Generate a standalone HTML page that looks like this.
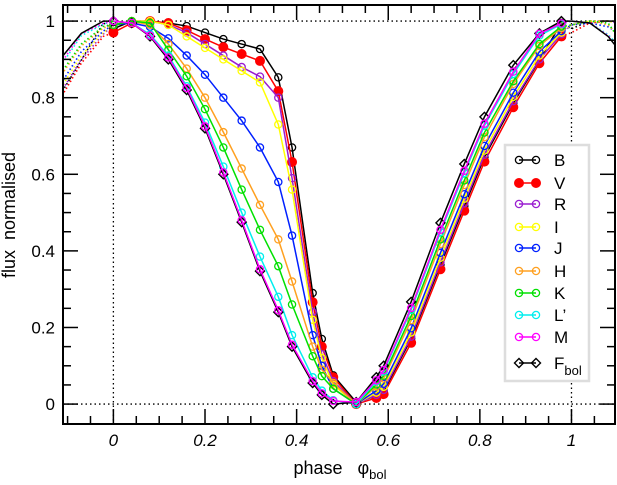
<!DOCTYPE html>
<html><head><meta charset="utf-8"><style>
body{margin:0;background:#fff;}
svg{display:block;font-family:"Liberation Sans",sans-serif;}
</style></head><body>
<svg id="chart" width="617" height="485" viewBox="0 0 617 485" xmlns="http://www.w3.org/2000/svg">
<defs><clipPath id="plotclip"><rect x="63" y="5" width="552" height="419"/></clipPath></defs>
<g id="grid"></g>
<g id="series" clip-path="url(#plotclip)"></g>
<g id="axes"></g>
<g id="legend"></g>
<text transform="translate(15,215) rotate(-90)" text-anchor="middle" font-size="18">flux&#160;&#160;normalised</text>
<text x="340" y="474" text-anchor="middle" font-size="18">phase&#160;&#160;&#160;φ<tspan font-size="13" dy="5">bol</tspan></text>
</svg>
<script>
const phases=[0,0.04,0.08,0.12,0.16,0.2,0.24,0.28,0.32,0.36,0.39,0.435,0.455,0.48,0.53,0.574,0.59,0.65,0.714,0.766,0.81,0.873,0.93,0.978];
const seriesNames=["B","V","R","I","J","H","K","L’","M","Fbol"];
const valsB=[0.98,1,1,0.995,0.987,0.97,0.953,0.94,0.927,0.853,0.67,0.29,0.17,0.075,0.005,0.021,0.033,0.171,0.364,0.517,0.645,0.786,0.898,0.995];
const valsV=[0.97,0.995,1,0.995,0.976,0.953,0.932,0.914,0.896,0.817,0.632,0.266,0.15,0.07,0,0.016,0.026,0.16,0.352,0.505,0.633,0.775,0.89,0.96];
const valsR=[0.99,1,1,0.99,0.97,0.94,0.91,0.88,0.855,0.8,0.59,0.24,0.13,0.06,0,0.024,0.037,0.176,0.37,0.524,0.651,0.791,0.9,0.966];
const valsI=[0.99,1,1,0.99,0.96,0.93,0.9,0.87,0.84,0.73,0.56,0.22,0.12,0.05,0,0.03,0.045,0.187,0.382,0.536,0.662,0.802,0.91,0.97];
const valsJ=[0.99,0.995,0.985,0.955,0.91,0.86,0.8,0.74,0.67,0.58,0.44,0.18,0.1,0.04,0,0.035,0.053,0.198,0.395,0.548,0.674,0.813,0.92,0.974];
const valsH=[0.99,1,0.99,0.94,0.876,0.8,0.71,0.615,0.52,0.43,0.32,0.15,0.09,0.055,0,0.046,0.067,0.219,0.418,0.572,0.697,0.836,0.935,0.982];
const valsK=[0.99,1,0.995,0.925,0.856,0.77,0.67,0.56,0.455,0.36,0.26,0.125,0.073,0.04,0,0.051,0.074,0.23,0.43,0.584,0.709,0.843,0.94,0.986];
const valsL=[1,0.995,0.965,0.91,0.83,0.735,0.62,0.5,0.385,0.28,0.18,0.07,0.035,0.01,0,0.059,0.085,0.246,0.449,0.603,0.727,0.862,0.962,0.992];
const valsM=[1,0.995,0.962,0.905,0.825,0.725,0.605,0.48,0.352,0.245,0.155,0.06,0.028,0.008,0.005,0.062,0.089,0.251,0.455,0.609,0.732,0.868,0.967,0.994];
const valsF=[1,0.995,0.96,0.9,0.82,0.72,0.6,0.475,0.347,0.24,0.15,0.055,0.024,0,0.005,0.07,0.1,0.267,0.473,0.627,0.75,0.885,0.968,1.0];
const xTicks=["0","0.2","0.4","0.6","0.8","1"];
const yTicks=["0","0.2","0.4","0.6","0.8","1"];

const NS="http://www.w3.org/2000/svg";
const X0=63,X1=615,Y0=424,Y1=5;
const xmin=-0.11,xmax=1.095,ymin=-0.052,ymax=1.042;
function sx(v){return X0+(v-xmin)/(xmax-xmin)*(X1-X0);}
function sy(v){return Y0-(v-ymin)/(ymax-ymin)*(Y0-Y1);}
function mk(tag,attrs,parent){const e=document.createElementNS(NS,tag);for(const k in attrs)e.setAttribute(k,attrs[k]);parent.appendChild(e);return e;}

const grid=document.getElementById('grid');
const dl={stroke:"#000","stroke-width":1.3,"stroke-dasharray":"1.5,3",fill:"none"};
let g;
g=mk('line',Object.assign({x1:X0,x2:X1,y1:sy(1),y2:sy(1)},dl),grid);

g=mk('line',Object.assign({x1:X0,x2:X1,y1:sy(0),y2:sy(0)},dl),grid);

g=mk('line',Object.assign({x1:sx(0),x2:sx(0),y1:Y1,y2:Y0},dl),grid);

g=mk('line',Object.assign({x1:sx(1),x2:sx(1),y1:Y1,y2:Y0},dl),grid);


const seriesVals=[valsB,valsV,valsR,valsI,valsJ,valsH,valsK,valsL,valsM,valsF];
const colors=["#000","#f00","#9a1ed0","#ff0","#0020ff","#ffa020","#00e000","#00eeee","#ff00ff","#000"];
const markers=["o","f","o","o","o","o","o","o","o","d"];
const sg=document.getElementById('series');
function marker(type,x,y,c,parent,name){
  let e;
  if(type==="f"){e=mk('circle',{cx:x,cy:y,r:4.5,fill:"#f00",stroke:"#f00"},parent);}
  else if(type==="d"){e=mk('polygon',{points:`${x},${y-4.5} ${x+4.5},${y} ${x},${y+4.5} ${x-4.5},${y}`,fill:"none",stroke:"#000","stroke-width":1.4},parent);}
  else{e=mk('circle',{cx:x,cy:y,r:3.6,fill:"none",stroke:c,"stroke-width":1.3},parent);}
  
  
  return e;
}
seriesVals.forEach((vals,si)=>{
  const pts=[];
  phases.forEach((p,i)=>{if(p>0.75)pts.push([p-1,vals[i]]);});
  pts.push([phases[0],vals[0]]);
  const pts2=[[phases[phases.length-1],vals[vals.length-1]]];
  phases.forEach((p,i)=>{if(p<0.2)pts2.push([p+1,vals[i]]);});
  [pts,pts2].forEach((pp,k)=>{
    const solid=si===9;
    const e=mk('polyline',{points:pp.map(q=>sx(q[0])+","+sy(q[1])).join(" "),fill:"none",stroke:colors[si],"stroke-width":solid?1.5:1.6,"stroke-dasharray":solid?"none":"1.5,2.5"},sg);
    
    
  });
});
const order=[0,1,2,3,4,5,6,7,9,8];
order.forEach(si=>{
  const vals=seriesVals[si];
  const grp=mk('g',{},sg);
  
  
  const ln=mk('polyline',{points:phases.map((p,i)=>sx(p)+","+sy(vals[i])).join(" "),fill:"none",stroke:colors[si],"stroke-width":1.5},grp);
  
  
  phases.forEach((p,i)=>marker(markers[si],sx(p),sy(vals[i]),colors[si],grp,'point-'+seriesNames[si]));
});

const ax=document.getElementById('axes');
const fr=mk('rect',{x:X0,y:Y1,width:X1-X0,height:Y0-Y1,fill:"none",stroke:"#000","stroke-width":2},ax);

for(let k=-2;k<=21;k++){
  const v=k*0.05; const x=sx(v); if(x<X0+1||x>X1-1)continue;
  const maj=(k%4===0); const L=maj?15:8;
  mk('line',{x1:x,x2:x,y1:Y0,y2:Y0-L,stroke:"#000","stroke-width":1.5},ax);
  mk('line',{x1:x,x2:x,y1:Y1,y2:Y1+L,stroke:"#000","stroke-width":1.5},ax);
}
for(let k=-1;k<=21;k++){
  const v=k*0.05; const y=sy(v); if(y<Y1+1||y>Y0-1)continue;
  const maj=(k%4===0); const L=maj?15:8;
  mk('line',{x1:X0,x2:X0+L,y1:y,y2:y,stroke:"#000","stroke-width":1.5},ax);
  mk('line',{x1:X1,x2:X1-L,y1:y,y2:y,stroke:"#000","stroke-width":1.5},ax);
}
xTicks.forEach(t=>{
  const e=mk('text',{x:sx(parseFloat(t)),y:446,"text-anchor":"middle","font-size":17,"font-style":"italic"},ax);
  e.textContent=t;
  
  
});
yTicks.forEach(t=>{
  const e=mk('text',{x:55,y:sy(parseFloat(t))+6,"text-anchor":"end","font-size":17},ax);
  e.textContent=t;
  
  
});

const lg=document.getElementById('legend');
const box=mk('rect',{x:505,y:145,width:84,height:236,fill:"#fff",stroke:"#ddd","stroke-width":2.5},lg);

const rowsY=[160,183,204,227,248,271,293,315,337,363];
const labels=["B","V","R","I","J","H","K","L’","M","F"];
seriesNames.forEach((n,i)=>{
  const eg=mk('g',{},lg);
  
  
  const y=rowsY[i];
  mk('line',{x1:519,x2:536,y1:y,y2:y,stroke:colors[i],"stroke-width":1.5},eg);
  marker(markers[i],519,y,colors[i],eg,'legend-marker');
  marker(markers[i],536,y,colors[i],eg,'legend-marker');
  const t=mk('text',{x:554,y:y+6,"font-size":17},eg);
  t.textContent=labels[i];
  
  
  if(i===9){const s=mk('tspan',{"font-size":13,dy:6},t);s.textContent="bol";}
});
</script>
</body></html>
